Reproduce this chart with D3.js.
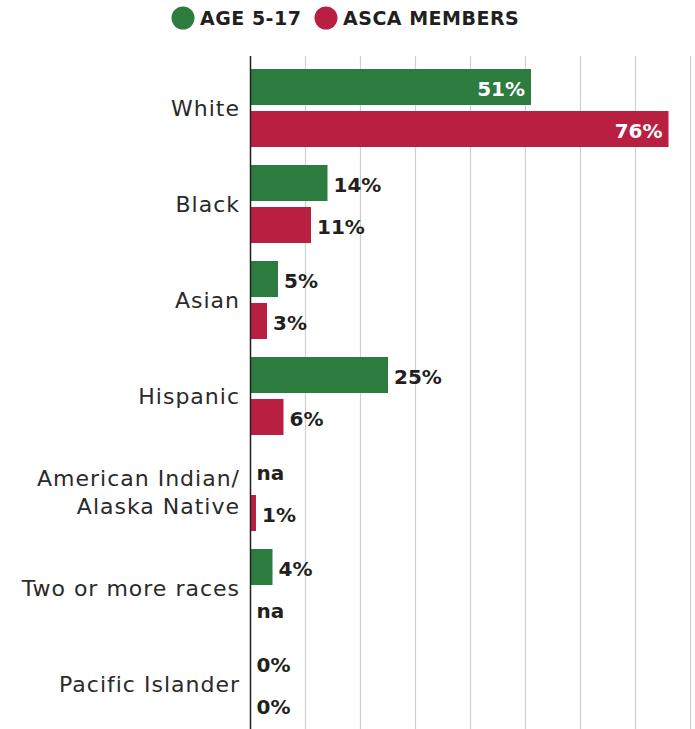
<!DOCTYPE html>
<html>
<head>
<meta charset="utf-8">
<script src="https://cdn.jsdelivr.net/npm/d3@7"></script>
<style>
  html, body { margin: 0; padding: 0; background: #fff; }
  svg { display: block; }
</style>
</head>
<body>
<svg id="chart" width="695" height="729"></svg>
<script>
const categories = ["White", "Black", "Asian", "Hispanic", "American Indian/\nAlaska Native", "Two or more races", "Pacific Islander"];
const seriesNames = ["AGE 5-17", "ASCA MEMBERS"];
const age517 = [51, 14, 5, 25, null, 4, 0];
const ascaMembers = [76, 11, 3, 6, 1, null, 0];
const xTicks = [0, 10, 20, 30, 40, 50, 60, 70, 80];
const colors = ["#2c7b3f", "#b91f40"];

const svg = d3.select("#chart");
const textColor = "#231f20";
const boldFont = "'DejaVu Sans', 'Noto Sans', sans-serif";
const labelFont = "'DejaVu Sans', 'Noto Sans', sans-serif";

const x = d3.scaleLinear().domain([0, 80]).range([250.5, 690.5]);
const y = d3.scaleBand().domain(categories).range([60, 732]).paddingInner(0).paddingOuter(0);

// gridlines
svg.append("g").selectAll("line").data(xTicks.slice(1)).join("line")
  .attr("x1", d => x(d)).attr("x2", d => x(d))
  .attr("y1", 56).attr("y2", 729)
  .attr("stroke", "#cfcfcf").attr("stroke-width", 1.2);

const rows = categories.map((c, i) => ({ cat: c, vals: [age517[i], ascaMembers[i]] }));

const g = svg.append("g");
const barH = 36;
rows.forEach(r => {
  const cy = y(r.cat) + y.bandwidth() / 2;
  r.vals.forEach((v, s) => {
    const top = s === 0 ? cy - 39 : cy + 3;
    const mid = top + barH / 2;
    if (v !== null && v > 0) {
      g.append("rect")
        .attr("x", x(0)).attr("y", top)
        .attr("width", x(v) - x(0)).attr("height", barH)
        .attr("fill", colors[s]);
    }
    const label = v === null ? "na" : v + "%";
    const inside = v !== null && v >= 40;
    g.append("text")
      .attr("x", inside ? x(v) - 6 : (v ? x(v) + 6 : x(0) + 6))
      .attr("y", mid + 2)
      .attr("dy", "0.35em")
      .attr("text-anchor", inside ? "end" : "start")
      .attr("font-family", boldFont)
      .attr("font-weight", 700)
      .attr("font-size", 20)
      .attr("fill", inside ? "#fff" : textColor)
      .text(label);
  });
});

// category labels
rows.forEach(r => {
  const cy = y(r.cat) + y.bandwidth() / 2;
  const lines = r.cat.split("\n");
  const lh = 28;
  const t = svg.append("text")
    .attr("text-anchor", "end")
    .attr("font-family", labelFont)
    .attr("font-size", 22)
    .attr("letter-spacing", 1)
    .attr("fill", "#2a2a2a");
  lines.forEach((ln, k) => {
    t.append("tspan")
      .attr("x", 240)
      .attr("y", cy + (k - (lines.length - 1) / 2) * lh)
      .attr("dy", "0.35em")
      .text(ln);
  });
});

// axis line
svg.append("line")
  .attr("x1", x(0)).attr("x2", x(0))
  .attr("y1", 56).attr("y2", 729)
  .attr("stroke", textColor).attr("stroke-width", 1.5);

// legend
const legend = svg.append("g");
const legendItems = [{ name: seriesNames[0], cx: 183, tx: 200 }, { name: seriesNames[1], cx: 326, tx: 343 }];
legendItems.forEach((d, i) => {
  legend.append("circle").attr("cx", d.cx).attr("cy", 18).attr("r", 11.5).attr("fill", colors[i]);
  legend.append("text").attr("x", d.tx).attr("y", 18).attr("dy", "0.35em")
    .attr("font-family", boldFont).attr("font-weight", 700).attr("font-size", 19)
    .attr("letter-spacing", 0.5)
    .attr("fill", textColor).text(d.name);
});
</script>
</body>
</html>
